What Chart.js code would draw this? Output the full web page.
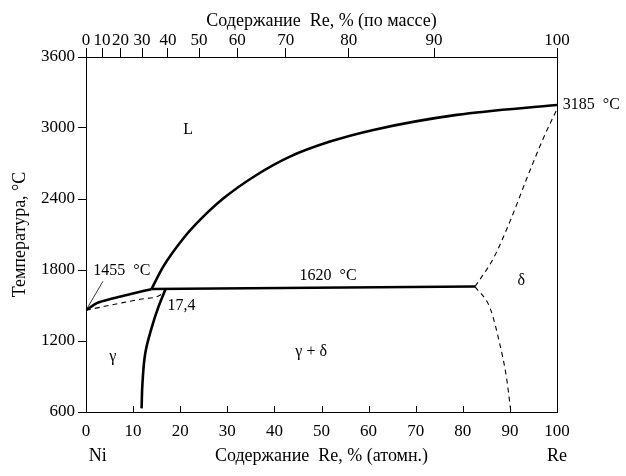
<!DOCTYPE html>
<html>
<head>
<meta charset="utf-8">
<script src="https://cdn.jsdelivr.net/npm/chart.js@4/dist/chart.umd.min.js"></script>
<style>
  html, body { margin: 0; padding: 0; background: #fff; }
  #wrap { width: 626px; height: 476px; }
</style>
</head>
<body>
<div id="wrap"><canvas id="myChart" width="626" height="476"></canvas></div>
<script>
// axis ticks
var atomTicks = [0, 10, 20, 30, 40, 50, 60, 70, 80, 90, 100];
var tempTicks = [600, 1200, 1800, 2400, 3000, 3600];
var weightLabels = [0, 10, 20, 30, 40, 50, 60, 70, 80, 90, 100];
var weightAtPos = [0, 3.4, 7.3, 11.9, 17.4, 24.0, 32.1, 42.4, 55.8, 73.9, 100];

// liquidus, Ni side
var liqNiX = [0, 2.3, 5.8, 9.3, 13.9];
var liqNiT = [1460, 1520, 1561, 1595, 1638];
// liquidus, Re side
var liqReX = [13.9, 16.4, 20.7, 24.2, 29.2, 36.2, 43.3, 51.8, 61.0, 78.7, 100];
var liqReT = [1638, 1828, 2068, 2223, 2406, 2603, 2758, 2885, 2984, 3111, 3195];
// peritectic 1620
var peritX = [13.9, 82.6];
var peritT = [1640, 1660];
// solidus of gamma (dashed)
var solNiX = [0, 3.0, 7.2, 11.5, 16.1, 16.9];
var solNiT = [1460, 1485, 1519, 1553, 1597, 1640];
// gamma solvus
var solvGX = [16.9, 15.4, 13.9, 12.6, 12.0, 11.8];
var solvGT = [1640, 1490, 1307, 1100, 850, 631];
// delta boundaries (dashed)
var deltaUpX = [82.6, 86.5, 90.0, 93.6, 97.1, 100];
var deltaUpT = [1660, 1899, 2209, 2575, 2914, 3160];
var deltaLoX = [82.6, 85.8, 87.9, 89.3, 90.2];
var deltaLoT = [1660, 1477, 1166, 885, 603];

function pts(xs, ys) {
    return xs.map(function (x, i) { return { x: x, y: ys[i] }; });
}
function solid(xs, ys, smooth) {
    var d = { data: pts(xs, ys), showLine: true, borderColor: '#000', borderWidth: 2.6,
              pointRadius: 0, fill: false };
    if (smooth) { d.tension = 0.4; } else { d.cubicInterpolationMode = 'monotone'; }
    return d;
}
function dashed(xs, ys) {
    return { data: pts(xs, ys), showLine: true, borderColor: '#000', borderWidth: 1.1,
             borderDash: [5, 4], pointRadius: 0, cubicInterpolationMode: 'monotone', fill: false };
}

var serif = "'Liberation Serif', 'Times New Roman', serif";
var tickFont = { family: serif, size: 17 };
var titleFont = { family: serif, size: 18 };
Chart.defaults.font.family = serif;
Chart.defaults.color = '#000';

var labels = [
    { text: 'L', x: 21.7, y: 2984 },
    { text: '1620  °C', x: 51.4, y: 1752 },
    { text: 'δ', x: 92.4, y: 1705 },
    { text: 'γ', x: 5.7, y: 1065 },
    { text: 'γ + δ', x: 47.8, y: 1107 },
    { text: '17,4', x: 20.3, y: 1496 },
    { text: '1455  °C', x: 7.6, y: 1797 },
    { text: '3185  °C', x: 107.3, y: 3195 }
];

var decor = {
    id: 'decor',
    afterDraw: function (chart) {
        var c = chart.ctx, a = chart.chartArea;
        var xs = chart.scales.x, ys = chart.scales.y;
        c.save();
        c.strokeStyle = '#000';
        c.lineWidth = 1;
        c.strokeRect(a.left + 0.5, a.top + 0.5, a.right - a.left, a.bottom - a.top);
        // inward ticks on the bottom axis
        atomTicks.forEach(function (v) {
            var px = Math.round(xs.getPixelForValue(v)) + 0.5;
            c.beginPath();
            c.moveTo(px, a.bottom);
            c.lineTo(px, a.bottom - 6);
            c.stroke();
        });
        // leader for 1455
        c.lineWidth = 0.8;
        c.beginPath();
        c.moveTo(xs.getPixelForValue(0), ys.getPixelForValue(1460));
        c.lineTo(xs.getPixelForValue(3.6), ys.getPixelForValue(1705));
        c.stroke();
        c.fillStyle = '#000';
        c.font = "16px " + serif;
        c.textAlign = 'center';
        c.textBaseline = 'middle';
        labels.forEach(function (l) {
            c.fillText(l.text, xs.getPixelForValue(l.x), ys.getPixelForValue(l.y));
        });
        c.font = "18px " + serif;
        c.fillText('Ni', xs.getPixelForValue(2.5), 456);
        c.fillText('Re', xs.getPixelForValue(100), 456);
        c.restore();
    }
};

var ctx = document.getElementById('myChart');
var myChart = new Chart(ctx, {
    type: 'scatter',
    data: {
        datasets: [
            solid(liqNiX, liqNiT),
            solid(liqReX, liqReT),
            solid(peritX, peritT),
            dashed(solNiX, solNiT),
            solid(solvGX, solvGT, true),
            dashed(deltaUpX, deltaUpT),
            dashed(deltaLoX, deltaLoT)
        ]
    },
    options: {
        responsive: false,
        animation: false,
        layout: { padding: { left: 0, top: 0, bottom: 0, right: 69 } },
        plugins: { legend: { display: false }, tooltip: { enabled: false } },
        scales: {
            x: {
                type: 'linear', position: 'bottom', min: 0, max: 100,
                afterFit: function (s) { s.height = 64; },
                afterBuildTicks: function (s) { s.ticks = atomTicks.map(function (v) { return { value: v }; }); },
                grid: { drawOnChartArea: false, tickLength: 8, tickColor: 'rgba(0,0,0,0)' },
                border: { color: '#000' },
                ticks: { font: tickFont, padding: 1, maxRotation: 0, autoSkip: false,
                         callback: function (v) { return String(v); } },
                title: { display: true, font: titleFont, text: 'Содержание  Re, % (атомн.)', padding: { top: 0, bottom: 9 } }
            },
            x2: {
                type: 'linear', position: 'top', min: 0, max: 100,
                afterFit: function (s) { s.height = 57; },
                afterBuildTicks: function (s) { s.ticks = weightAtPos.map(function (v) { return { value: v }; }); },
                grid: { drawOnChartArea: false, tickLength: 9, tickColor: '#000' },
                border: { color: '#000' },
                ticks: {
                    font: tickFont, padding: -3, maxRotation: 0, autoSkip: false,
                    callback: function (v, i) { return String(weightLabels[i]); }
                },
                title: { display: true, font: titleFont, text: 'Содержание  Re, % (по массе)', padding: { top: 10, bottom: 0 } }
            },
            y: {
                type: 'linear', min: 600, max: 3600,
                afterFit: function (s) { s.width = 86; },
                afterBuildTicks: function (s) { s.ticks = tempTicks.map(function (v) { return { value: v }; }); },
                grid: { drawOnChartArea: false, tickLength: 8, tickColor: '#000' },
                border: { color: '#000' },
                ticks: { font: tickFont, padding: 3, callback: function (v) { return String(v); } },
                title: { display: true, font: titleFont, text: 'Температура, °C', padding: { top: 9, bottom: 0 } }
            }
        }
    },
    plugins: [decor]
});
</script>
</body>
</html>
